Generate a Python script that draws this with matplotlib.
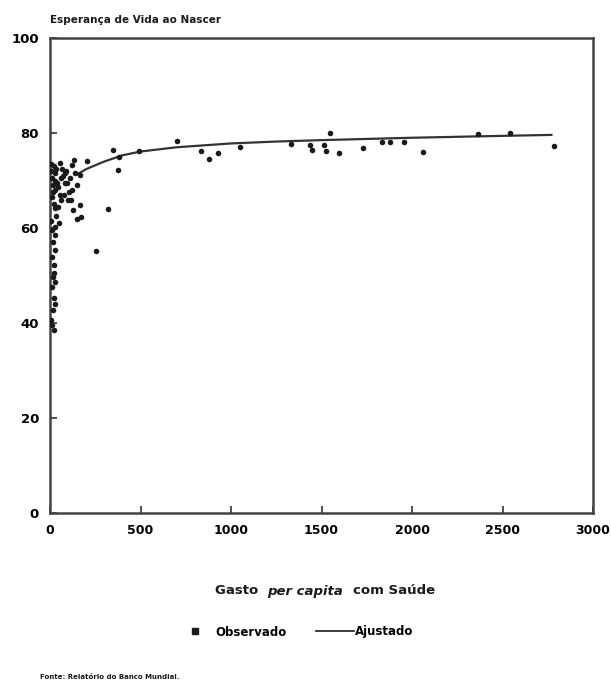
import matplotlib
matplotlib.use("Agg")
import matplotlib.pyplot as plt
from matplotlib.lines import Line2D

# Observed points: health spending per capita (x) vs life expectancy (y)
obs_x = [5, 8, 12, 15, 20, 25, 30, 10, 18, 22, 28, 35, 40, 45, 55, 60, 70, 83, 90, 101,
         110, 120, 120, 130, 129, 140, 147, 150, 166, 166, 170, 55, 45, 25, 25, 60, 75,
         95, 105, 115, 65, 85, 35, 50,
         25, 18, 30, 12, 22, 20, 15, 28, 10, 20, 25, 15, 8, 12, 20, 5, 10,
         206, 350, 383, 374, 494, 700, 832, 880, 930, 1050, 319, 254,
         1330, 1436, 1446, 1514, 1525, 1547, 1598, 1728, 1832, 1878, 1956, 2059,
         2366, 2541, 2785]
obs_y = [73.5, 72.0, 70.5, 69.0, 73.0, 71.5, 68.0, 66.5, 67.5, 65.0, 70.0, 72.5, 69.5, 68.7, 73.7, 65.9, 71.0, 69.5, 72.0, 65.9,
         70.5, 73.3, 68.0, 74.3, 63.8, 71.5, 62.0, 69.0, 71.2, 64.8, 62.3, 67.0, 64.5, 64.2, 60.3, 70.5, 67.0,
         69.5, 67.5, 66.0, 72.5, 71.5, 62.5, 61.0,
         58.5, 57.1, 55.4, 54.0, 52.2, 50.5, 49.7, 48.6, 47.6, 45.3, 44.0, 42.7, 40.6, 39.5, 38.5, 61.5, 59.5,
         74.2, 76.4, 75.0, 72.2, 76.3, 78.3, 76.3, 74.5, 75.7, 77.0, 64.1, 55.2,
         77.7, 77.5, 76.4, 77.5, 76.2, 79.9, 75.7, 76.8, 78.2, 78.2, 78.2, 76.1,
         79.8, 80.1, 77.3]

# Fitted curve
fit_x = [150, 200, 300, 400, 500, 700, 1000, 1250, 1500, 2000, 2500, 2770]
fit_y = [71.3, 72.4, 74.0, 75.3, 76.1, 77.0, 77.8, 78.2, 78.5, 79.0, 79.4, 79.6]

x_ticks = [0, 500, 1000, 1500, 2000, 2500, 3000]
y_ticks = [0, 20, 40, 60, 80, 100]

plt.rcParams['font.family'] = ['DejaVu Sans']

fig = plt.figure(figsize=(6.11, 6.86), dpi=100)
ax = fig.add_axes([50/611, 1 - 513/686, (593 - 50)/611, (513 - 38)/686])

ink = '#1a1a1a'
ax.scatter(obs_x, obs_y, s=16, marker='o', color=ink, linewidths=0, zorder=3)
ax.plot(fit_x, fit_y, color='#333333', lw=1.6, zorder=2)

ax.set_xlim(0, 3000)
ax.set_ylim(0, 100)
ax.set_xticks(x_ticks)
ax.set_yticks(y_ticks)
ax.set_xticklabels([str(v) for v in x_ticks], fontweight='bold', fontsize=9)
ax.set_yticklabels([str(v) for v in y_ticks], fontweight='bold', fontsize=9.5)
ax.tick_params(direction='in', length=5, width=1.2, color='#333333', pad=8)
for sp in ax.spines.values():
    sp.set_linewidth(1.8)
    sp.set_color('#444444')

fig.text(50/611, 1 - 20/686, 'Esperança de Vida ao Nascer', fontsize=7.5,
         fontweight='bold', ha='left', va='center', color=ink)

# x label in three pieces (italic "per capita"), chained left to right
yl = 1 - 591/686
pieces = [('Gasto ', 'normal'), ('per capita ', 'italic'), ('com Saúde', 'normal')]
renderer = fig.canvas.get_renderer()
widths = []
tmp = []
for s, st in pieces:
    t = fig.text(0, yl, s, fontsize=9.5, style=st, fontweight='bold', ha='left',
                 va='center', color=ink)
    tmp.append(t)
    widths.append(t.get_window_extent(renderer).width / fig.bbox.width)
space = 0.008
total = sum(widths) + space * (len(widths) - 1)
x0 = 325/611 - total / 2
for t, w in zip(tmp, widths):
    t.set_x(x0)
    x0 += w + space

handles = [Line2D([], [], marker='s', color=ink, linestyle='none', markersize=5),
           Line2D([], [], color=ink, lw=1.2)]
fig.legend(handles, ['Observado', 'Ajustado'], loc='center',
           bbox_to_anchor=(295/611, 1 - 632/686), ncol=2, frameon=False,
           prop={'size': 8.5, 'weight': 'bold'}, handlelength=3.2,
           handletextpad=0.1, columnspacing=2.5)

fig.text(40/611, 1 - 677/686, 'Fonte: Relatório do Banco Mundial.', fontsize=5,
         fontweight='bold', ha='left', va='center', color=ink)

fig.savefig('out.png', dpi=100, facecolor='white')
